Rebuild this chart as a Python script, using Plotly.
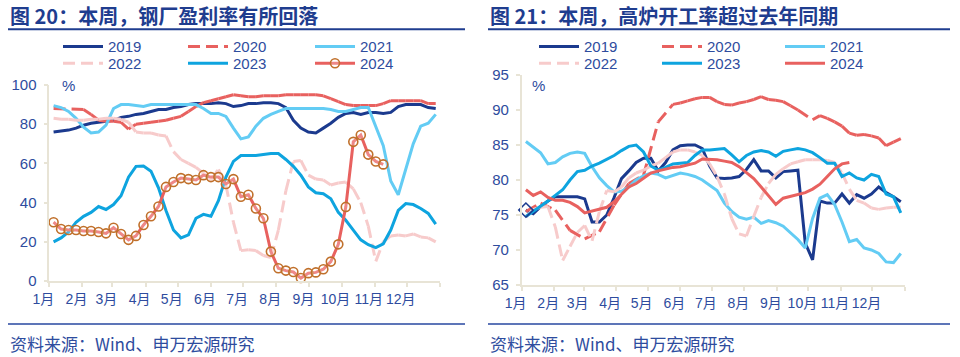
import plotly.graph_objects as go
import pandas as pd

W, H = 960, 357

# ---------------- data ----------------
week_dates = [d.strftime('%Y-%m-%d') for d in pd.date_range('2023-01-05', periods=52, freq='7D')]
month_ticks = [d.strftime('%Y-%m-%d') for d in pd.date_range('2023-01-01', periods=13, freq='MS')]
month_labels = ['1月', '2月', '3月', '4月', '5月', '6月', '7月', '8月', '9月', '10月', '11月', '12月', '']
years = ['2019', '2020', '2021', '2022', '2023', '2024']

# 图20 钢厂盈利率 (%)
profit_2019 = [76, 76.5, 77, 78, 79.5, 80.5, 81, 81.5, 82, 83.5, 84, 85, 85.5, 86.5, 87.5, 87.5, 88.5, 89, 90, 90.5,
               90.5, 90.5, 91, 90.5, 89, 89.5, 90.5, 90.5, 91, 91, 90.5, 88.5, 82, 78, 76, 75.5, 78, 80.5, 83.5, 85.5,
               86, 85, 86, 86, 85.5, 86, 89, 90, 90, 90, 88.5, 88]
profit_2020 = [88, None, None, None, 87.5, 85, 82, 81.5, 81.5, 81, 77.5, 80, 80.5, 81, 81.5, 82, 83, 84, 86.5, 89,
               91, 92, 93, 94, 95, 94.5, 94, 94, 94.5, 94.5, 94.5, 95, 95, 95, 95, 95, 94.5, 93, 91.5, 90,
               89.5, 89.5, 89.5, 89.5, 90.5, 92, 92, 92, 92, 92, 90.5, 90.5]
profit_2021 = [89.5, 88.5, 86.5, 83, 78.5, 75.5, 76, 79.5, 88, 90, 90, 89.5, 89, 90, 90, 90, 90, 90, 90, 90,
               88, 85.5, 85.5, 84, 78, 72.5, 73.5, 79, 83, 85, 86.5, 88, 88, 88, 88, 88, 88, 87.5, 86.5, 86.5,
               87.5, 88.5, 88.5, 79, 69, 51, 44, 57, 70, 79, 80.5, 85]
profit_2022 = [83, 82.5, 82.5, 82, 82, 82.5, 82.5, 83, 83, 82.5, 81, 76, 75.5, 75.5, 74.5, 74, 66, 62, 60, 58,
               55, 51.5, 57, 49, 30, 15.5, 16, 15.5, 13, 12, 26, 46, 61, 61.5, 54, 52, 51.5, 49, 50, 50.5,
               47, 40, 28, 10, 20, 23, 23.5, 23, 24, 22.5, 22, 20]
profit_2023 = [20, 22, 25, 30, 33, 35, 38, 36.5, 39, 43.5, 53, 58.5, 58.7, 56, 47.5, 36, 26, 22, 23.5, 32,
               34, 33, 41, 53, 61, 64, 64, 64, 64.5, 65, 65, 62, 58.5, 54, 48, 45, 44.5, 42, 35, 31,
               26, 21, 18.5, 17, 19, 26, 36, 39.5, 39, 37, 34.5, 29]
profit_2024 = [30, 26.5, 26, 26, 25.5, 25.5, 25, 24.3, 27.2, 24, 21, 23, 28.6, 33, 38, 48, 50.5, 52.5, 52, 51.5,
               54, 53, 53, 49.5, 52, 43, 44, 37, 32, 15, 6.5, 5.3, 4.6, 1.5, 4, 4.4, 6, 9.9, 18.7, 37.8,
               71, 74.5, 64.5, 61, 59.5]
profit_ticks = [0, 20, 40, 60, 80, 100]

# 图21 高炉开工率 (%)
bf_2019 = [75.7, 75.2, 76.2, 77, 77.6, 77.6, 77.6, 77.6, 77.3, 74, 74, 75, 77.5, 80.2, 81.3, 82.5, 83.1, 83.1, 81.3, 82.5,
           84.3, 84.9, 85, 85, 84.5, 82, 80.3, 80.2, 80.3, 80.5, 81.5, 82.9, 81.3, 81.3, 80.3, 81.2, 81.3, 81.4, 71, 68.6,
           77, 76.7, 76.7, 78, 76.7, 77.9, 77.4, 78, 79, 78.2, 77.6, 76.9]
bf_2020 = [75.5, None, 76.7, None, 75.7, None, 72.8, None, 71.6, None, 72.6, None, 76.4, None, 79.5, None, 80.7, None, 88.3, None,
           90.8, 91, 91.3, 91.6, 91.8, 91.8, 91.2, 90.8, 90.7, 91, 91.2, 91.5, 91.9, 91.5, 91.4, 91.2, 90.6, 90, None, 88.6,
           89.2, 88.8, 88.3, 87.7, 86.7, 86.4, 86.5, 86.3, 86, 84.9, 85.4, 85.9]
bf_2021 = [85.5, 84.7, 83.9, 82.3, 82.5, 83.3, 83.8, 84, 83.8, 81.9, 80.3, 79.2, 78.3, 78.4, 79, 80, 80.6, 81, 80.8, 80.3,
           80.6, 81, 80.8, 80.5, 80, 79.3, 78.5, 76.7, 75.5, 74.7, 74.4, 74.7, 73.8, 74.2, 73.9, 73.4, 72.5, 71.5, 70.3, 74.5,
           77.4, 77.9, 76.5, 74, 71.2, 71.5, 70.3, 70, 69.5, 68.3, 68.2, 69.5]
bf_2022 = [74.7, 75.8, 76.1, 76.2, 73.3, 68.5, 70.5, 72.5, 73.5, 71.3, 75.5, 78.5, 78.3, 79, 80.3, 81, 81.4, 82, 82.4, 83.2,
           84, 84.3, 84.3, 84, 83.5, 82.3, 80.5, 78, 74.5, 72.3, 72, 74.8, 77.5, 79.5, 80.8, 81.6, 82.3, 82.6, 82.9, 82.9,
           82.9, 82.8, 82.5, 81, 78.7, 77.1, 76.7, 76, 75.8, 76, 76.1, 76.1]
bf_2023 = [74.8, 75.5, 76.3, 77, 77.8, 78.6, 80, 81.2, 81.4, 82, 82.4, 82.9, 83.5, 84.2, 84.8, 85, 84, 82, 81.4, 81.8,
           82.3, 82.4, 82.5, 83.5, 84.3, 84.3, 84.4, 84.5, 83.6, 82.6, 83.5, 84, 84.2, 84, 83.4, 84.1, 84.3, 84.5, 84.3, 83.9,
           83.2, 82.4, 82.4, 80.5, 81, 80.3, 80, 80.8, 80.5, 78, 77.6, 75.3]
bf_2024 = [78.6, 77.8, 78.3, 77.5, 77.1, 77.1, 76.8, 76.2, 75.3, 75.6, 75.8, 76.1, 76.9, 78, 79, 79.5, 80.3, 81, 81.3, 81.6,
           81.8, 81.9, 82.1, 82.4, 83, 83, 82.9, 82.7, 82.5, 81.9, 81, 80.2, 79, 77.8, 76.5, 77.4, 77.7, 78, 78.2, 78.7,
           79.4, 80.5, 81.6, 82.3, 82.5]
bf_ticks = [65, 70, 75, 80, 85, 90, 95]

# ---------------- styles ----------------
NAVY = '#1B3A8E'
RED = '#E8615F'
LIGHT = '#63CCF4'
PINK = '#F7CBCB'
BLUE = '#0EA4DF'
TEXT = '#2E4C9E'
TITLE = '#1F3D8F'
AXIS = '#E8E4D6'
FONT = 'Liberation Sans, Arial, Noto Sans CJK SC, sans-serif'
CJK = 'Noto Sans CJK SC, sans-serif'

styles = {
    '2019': dict(color=NAVY, dash=None),
    '2020': dict(color=RED, dash='12px,6px'),
    '2021': dict(color=LIGHT, dash=None),
    '2022': dict(color=PINK, dash='12px,6px'),
    '2023': dict(color=BLUE, dash=None),
    '2024': dict(color=RED, dash=None),
}


def segments(xs, ys):
    """Excel restarts the dash pattern for every segment: emulate with one sub-path per segment."""
    pts = [(x, y) for x, y in zip(xs, ys) if y is not None]
    sx, sy = [], []
    for (x0, y0), (x1, y1) in zip(pts[:-1], pts[1:]):
        sx += [x0, x1, None]
        sy += [y0, y1, None]
    return sx, sy


fig = go.Figure()

left_series = [profit_2019, profit_2020, profit_2021, profit_2022, profit_2023, profit_2024]
right_series = [bf_2019, bf_2020, bf_2021, bf_2022, bf_2023, bf_2024]


def add_series(vals, year, xa, ya, legend_name, markers=False):
    st = styles[year]
    xs = week_dates[:len(vals)]
    common = dict(name=year, xaxis=xa, yaxis=ya, legend=legend_name, hoverinfo='skip')
    if st['dash']:
        sx, sy = segments(xs, vals)
        fig.add_trace(go.Scatter(x=sx, y=sy, mode='lines', connectgaps=False,
                                 line=dict(color=st['color'], width=3, dash=st['dash']), **common))
    elif markers:
        fig.add_trace(go.Scatter(x=xs, y=vals, mode='lines+markers', cliponaxis=False,
                                 line=dict(color=st['color'], width=3),
                                 marker=dict(symbol='circle', size=9, color='rgba(255,255,255,0.25)',
                                             line=dict(color='#C0702B', width=1.6)), **common))
    else:
        fig.add_trace(go.Scatter(x=xs, y=vals, mode='lines', line=dict(color=st['color'], width=3), **common))


for i, (vals, yr) in enumerate(zip(left_series, years)):
    add_series(vals, yr, 'x', 'y', 'legend' if i == 0 else f'legend{i + 1}', markers=(yr == '2024'))
for i, (vals, yr) in enumerate(zip(right_series, years)):
    add_series(vals, yr, 'x2', 'y2', f'legend{i + 7}')

# hollow diamond at the first 2019 point of the right chart
fig.add_trace(go.Scatter(x=week_dates[:1], y=bf_2019[:1], mode='markers', xaxis='x2', yaxis='y2', showlegend=False,
                         hoverinfo='skip', cliponaxis=False,
                         marker=dict(symbol='diamond-open', size=11, color=NAVY, line=dict(width=1.5))))


def fx(p):
    return p / W


def fy(p):
    return 1 - p / H


axis_common = dict(showgrid=False, zeroline=False, showline=True, linecolor=AXIS, linewidth=1.5,
                   ticks='outside', ticklen=4, tickcolor=AXIS, tickwidth=1.5, automargin=False)
xcommon = dict(type='date', range=[month_ticks[0], month_ticks[-1]], tickmode='array', tickvals=month_ticks,
               ticktext=month_labels, tickangle=0, tickfont=dict(family=FONT, size=14, color=TEXT),
               ticklabelshift=-6, **axis_common)

fig.update_layout(
    width=W, height=H, autosize=False,
    margin=dict(l=0, r=0, t=0, b=0, pad=0),
    paper_bgcolor='white', plot_bgcolor='white',
    xaxis=dict(domain=[fx(49.3), fx(440)], anchor='y', **xcommon),
    yaxis=dict(domain=[fy(281), fy(85)], anchor='x', range=[0, 100], tickmode='array', tickvals=profit_ticks,
               tickfont=dict(family=FONT, size=15, color=TEXT), ticklabelstandoff=4, **axis_common),
    xaxis2=dict(domain=[fx(521.7), fx(905)], anchor='y2', **xcommon),
    yaxis2=dict(domain=[fy(285), fy(75)], anchor='x2', range=[65, 95], tickmode='array', tickvals=bf_ticks,
                tickfont=dict(family=FONT, size=15, color=TEXT), ticklabelstandoff=4, **axis_common),
)

# legends: one per entry, laid out in the 3x2 grid of the reference
left_cols = [63, 188, 315]
right_cols = [539, 662, 785]
rows = [46.7, 63.5]
for i in range(12):
    col = i % 3
    row = (i % 6) // 3
    x0 = (left_cols if i < 6 else right_cols)[col]
    key = 'legend' if i == 0 else f'legend{i + 1}'
    fig.update_layout({key: dict(x=fx(x0 - 5), y=fy(rows[row]), xanchor='left', yanchor='middle',
                                 orientation='h', bgcolor='rgba(0,0,0,0)', borderwidth=0, itemwidth=40,
                                 font=dict(family=FONT, size=15, color=TEXT))})

# titles, rules, sources
annotations = []
shapes = []
for x0, x1, title in [(8, 465, '图 20：本周，钢厂盈利率有所回落'), (488, 950, '图 21：本周，高炉开工率超过去年同期')]:
    annotations.append(dict(x=fx(x0), y=fy(16), xref='paper', yref='paper', xanchor='left', yanchor='middle',
                            text=title, showarrow=False,
                            font=dict(family=CJK, size=20, color=TITLE, weight='bold')))
    annotations.append(dict(x=fx(x0), y=fy(343), xref='paper', yref='paper', xanchor='left', yanchor='middle',
                            text='资料来源：Wind、申万宏源研究', showarrow=False,
                            font=dict(family=CJK, size=17, color=TEXT)))
    shapes.append(dict(type='line', xref='paper', yref='paper', x0=fx(x0), x1=fx(x1), y0=fy(29.3), y1=fy(29.3),
                       line=dict(color=TITLE, width=2)))
    shapes.append(dict(type='line', xref='paper', yref='paper', x0=fx(x0), x1=fx(x1), y0=fy(324), y1=fy(324),
                       line=dict(color='#2747A0', width=1.5)))
for xp in [68, 538]:
    annotations.append(dict(x=fx(xp), y=fy(85), xref='paper', yref='paper', xanchor='center', yanchor='middle',
                            text='%', showarrow=False, font=dict(family=FONT, size=15, color=TEXT)))

fig.update_layout(annotations=annotations, shapes=shapes)

fig.write_html('out.html', config={'displayModeBar': False},
               post_script="document.body.style.margin='0';document.body.style.overflow='hidden';")
